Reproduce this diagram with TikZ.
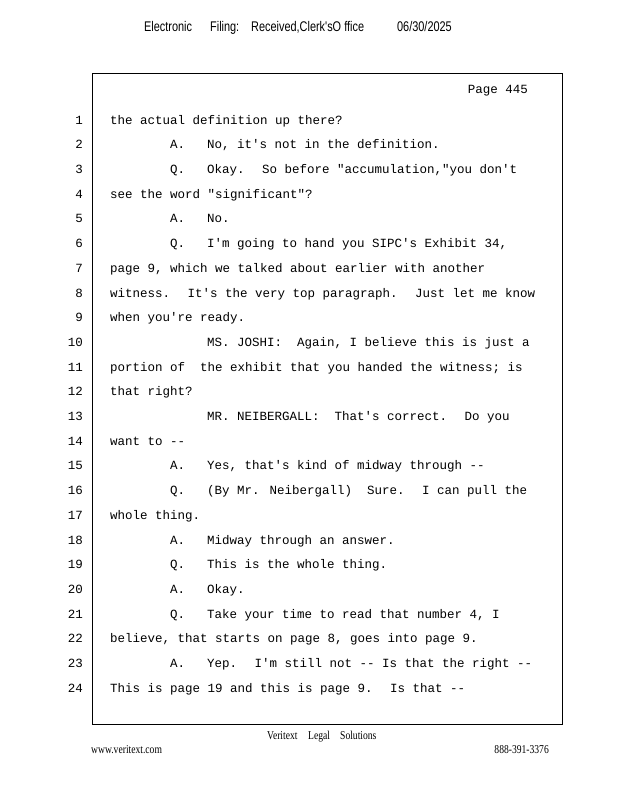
\documentclass[tikz,border=0pt]{standalone}
\usepackage{fontspec}
\newfontfamily\transcript{Liberation Mono}
\newfontfamily\headfont{Liberation Sans}
\newfontfamily\footfont{Liberation Serif}
\usetikzlibrary{calc}

\begin{document}
\begin{tikzpicture} [x=1pt, y=-1pt,
  txt/.style={anchor=mid west, inner sep=0pt, font=\transcript\fontsize{12.5}{14}\selectfont},
  lnum/.style={anchor=mid east, inner sep=0pt, font=\transcript\fontsize{12.5}{14}\selectfont},
  head/.style={anchor=mid west, inner sep=0pt, xscale=.78, font=\headfont\fontsize{14}{16}\selectfont},
  foot/.style={inner sep=0pt, xscale=.8, font=\footfont\fontsize{12}{14}\selectfont}]
\useasboundingbox[fill=white] (0,0) rectangle (618,800);
% header line
\node[head] (h1) at (144,29) {Electronic};
\node[head] (h2) at (210,29) {Filing:};
\node[head] (h3) at (251,29) {Received,Clerk'sO ffice};
\node[head] (h4) at (397,29) {06/30/2025};
% page frame
\draw[black, line width=.9pt] (92,73) rectangle (562,724);
\node[txt, anchor=mid east] (page) at (528,91) {Page 445};
% line numbers
\foreach \n in {1,...,24} {
 \node[lnum] (n\n) at (83,{122+24.7*(\n-1)}) {\n};
}
% speakers
\foreach \n/\who in {2/A.,3/Q.,5/A.,6/Q.,15/A.,16/Q.,18/A.,19/Q.,20/A.,21/Q.,23/A.} {
 \node[txt] (s\n) at (170,{122+24.7*(\n-1)}) {\who};
}
% testimony
\foreach \n/\x/\txt in {
 1/110/{the actual definition up there?},
 2/207/{No, it's not in the definition.},
 3/207/{Okay.~ So before "accumulation,"you don't},
 4/110/{see the word "significant"?},
 5/207/{No.},
 6/207/{I'm going to hand you SIPC's Exhibit 34,},
 7/110/{page 9, which we talked about earlier with another},
 8/110/{witness.~ It's the very top paragraph.~ Just let me know},
 9/110/{when you're ready.},
 10/207/{MS. JOSHI:~ Again, I believe this is just a},
 11/110/{portion of~ the exhibit that you handed the witness; is},
 12/110/{that right?},
 13/207/{MR. NEIBERGALL:~ That's correct.~ Do you},
 14/110/{want to --},
 15/207/{Yes, that's kind of midway through --},
 16/207/{(By Mr. Neibergall)~ Sure.~ I can pull the},
 17/110/{whole thing.},
 18/207/{Midway through an answer.},
 19/207/{This is the whole thing.},
 20/207/{Okay.},
 21/207/{Take your time to read that number 4, I},
 22/110/{believe, that starts on page 8, goes into page 9.},
 23/207/{Yep.~ I'm still not -- Is that the right --},
 24/110/{This is page 19 and this is page 9.~ Is that --}} {
 \node[txt] (t\n) at (\x,{122+24.7*(\n-1)}) {\txt};
}
% footer
\node[foot, anchor=mid west] (f1) at (267,737) {Veritext};
\node[foot, anchor=mid west] (f2) at (308,737) {Legal};
\node[foot, anchor=mid west] (f3) at (340,737) {Solutions};
\node[foot, anchor=mid west] (web) at (91,751) {www.veritext.com};
\node[foot, anchor=mid east] (tel) at (549,751) {888-391-3376};
\end{tikzpicture}
\end{document}
